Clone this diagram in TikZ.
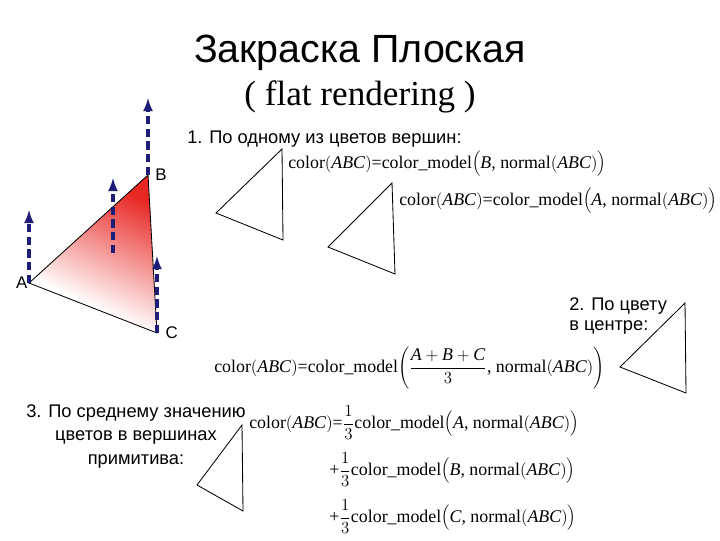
\documentclass[tikz,border=0pt]{standalone}
\usepackage{fontspec}
\setmainfont{Liberation Serif}
\newfontfamily\arialfont{Liberation Sans}
\usetikzlibrary{positioning}

\definecolor{navyblue}{RGB}{30,30,120}
\definecolor{vertred}{RGB}{232,38,34}
\pgfdeclareverticalshading{facered}{100bp}{color(0bp)=(white); color(34bp)=(white); color(68bp)=(vertred); color(100bp)=(vertred)}

\newcommand{\clrabc}{color$\big($\textit{ABC}$\big)$}
\newcommand{\nrmabc}{normal$\big($\textit{ABC}$\big)$}
\newcommand{\third}{$\displaystyle\frac{1}{3}$}

\begin{document}
\begin{tikzpicture}[
                        x=0.025cm, y=-0.025cm,
                        >=latex,
                        captxt/.style={font=\arialfont\fontsize{13pt}{14.5pt}\selectfont, inner sep=0pt},
                        formula/.style={font=\fontsize{12.7pt}{15pt}\selectfont, inner sep=0pt, anchor=base west},
                        normalvec/.style={->, draw=navyblue, line width=2.2pt, dash pattern=on 6pt off 3pt},
                        flat/.style={draw=black, line width=0.6pt}
                    ]
                    \useasboundingbox (0,0) rectangle (720,540);

                    % Title
                    \node [font=\arialfont\fontsize{28pt}{32pt}\selectfont, anchor=base, inner sep=0pt] (title) at (360,62) {Закраска Плоская};
                    \node [font=\fontsize{25pt}{30pt}\selectfont, anchor=base, inner sep=0pt] (subtitle) at (360,105) {( flat rendering )};

                    % Shaded triangle
                    \coordinate (A) at (29,283);
                    \coordinate (B) at (148,175);
                    \coordinate (C) at (157,333);
                    \coordinate (N) at (113,253);
                    \begin{scope}
                        \clip (A) -- (B) -- (C) -- cycle;
                        \shade [shading=facered, shading angle=-25] (20,150) rectangle (165,340);
                    \end{scope}
                    \draw [flat] (A) -- (B) -- (C) -- cycle;
                    \node [captxt, font=\arialfont\fontsize{12pt}{14pt}\selectfont, left=1pt of A] (labA) {A};
                    \node [captxt, font=\arialfont\fontsize{12pt}{14pt}\selectfont, right=5pt of B] (labB) {B};
                    \node [captxt, font=\arialfont\fontsize{12pt}{14pt}\selectfont, right=6pt of C] (labC) {C};

                    % Normals
                    \coordinate (Atip) at (29,210);
                    \coordinate (Ntip) at (113,178);
                    \coordinate (Btip) at (148,98);
                    \coordinate (Ctip) at (157,256);
                    \draw [normalvec] (A) -- (Atip);
                    \draw [normalvec] (N) -- (Ntip);
                    \draw [normalvec] (B) -- (Btip);
                    \draw [normalvec] (C) -- (Ctip);

                    % Small triangles
                    \draw [flat] (282,149) -- (216,213) -- (283,240) -- cycle;
                    \draw [flat] (392,183) -- (328,247) -- (395,274) -- cycle;
                    \draw [flat] (685,303) -- (620,367) -- (686,393) -- cycle;
                    \draw [flat] (242,425) -- (197,485) -- (243,511) -- cycle;

                    % Captions
                    \node [captxt, anchor=base west] (rule1) at (187,143) {1. По одному из цветов вершин:};
                    \node [captxt, anchor=north west, align=left] (rule2) at (569,297) {2. По цвету\\в центре:};
                    \node [captxt, anchor=north, align=center, font=\arialfont\fontsize{13pt}{17pt}\selectfont] (rule3) at (136,404) {3. По среднему значению\\цветов в вершинах\\примитива:};

                    % Formulas
                    \node [formula] (f1) at (288,168) {\clrabc=color\_model$\Big($\textit{B}, \nrmabc$\Big)$};
                    \node [formula] (f2) at (399,205) {\clrabc=color\_model$\Big($\textit{A}, \nrmabc$\Big)$};
                    \node [formula] (f3) at (214,372) {\clrabc=color\_model$\left(\displaystyle\frac{\textit{A}+\textit{B}+\textit{C}}{3}\mbox{, \nrmabc}\right)$};
                    \node [formula] (f4a) at (249,428) {\clrabc=\third color\_model$\Big($\textit{A}, \nrmabc$\Big)$};
                    \node [formula] (f4b) at (329,475) {+\third color\_model$\Big($\textit{B}, \nrmabc$\Big)$};
                    \node [formula] (f4c) at (329,522) {+\third color\_model$\Big($\textit{C}, \nrmabc$\Big)$};
                \end{tikzpicture}
\end{document}
